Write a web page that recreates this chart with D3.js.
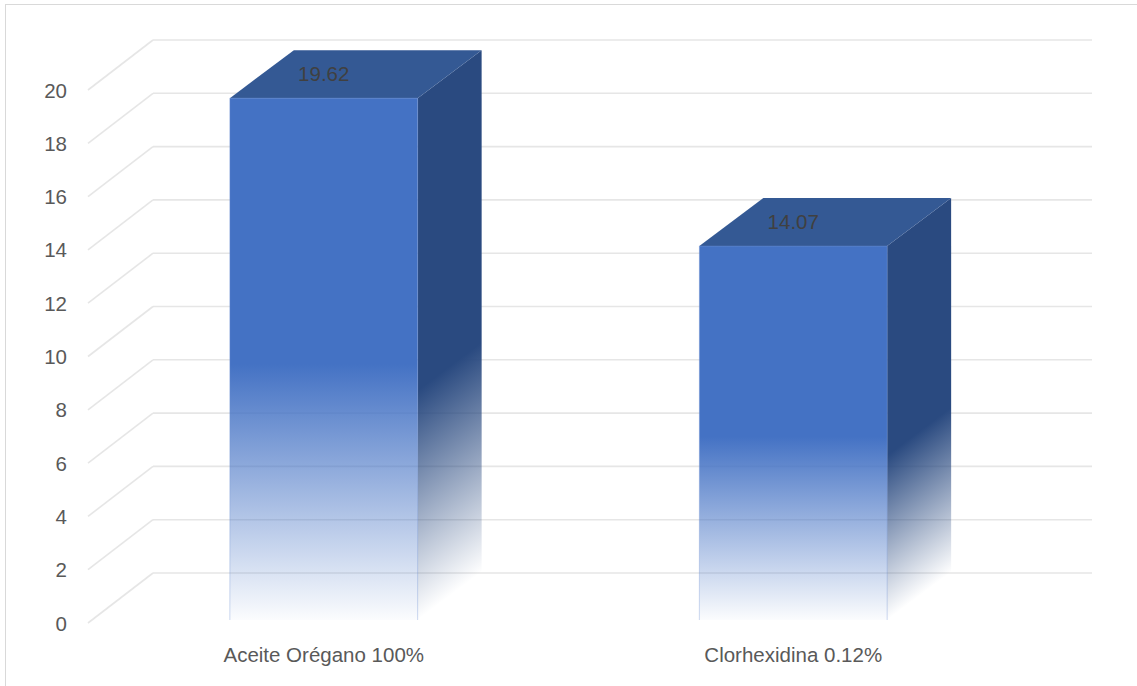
<!DOCTYPE html>
<html>
<head>
<meta charset="utf-8">
<script src="https://cdn.jsdelivr.net/npm/d3@7"></script>
<style>
  body { margin: 0; background: #fff; }
  svg text { font-family: "Liberation Sans", Arial, sans-serif; }
</style>
</head>
<body>
<div id="chart"></div>
<script>
// data
var categories = ["Aceite Orégano 100%", "Clorhexidina 0.12%"];
var values = [19.62, 14.07];
var yTicks = [0, 2, 4, 6, 8, 10, 12, 14, 16, 18, 20];

var W = 1137, H = 686;
// depth of the 3d box (back plane is shifted right/up from front plane)
var dx = 64, dy = 48;

var svg = d3.select("#chart")
  .append("svg")
  .attr("width", W)
  .attr("height", H);

var defs = svg.append("defs");

// chart border
svg.append("rect")
  .attr("x", 5.5).attr("y", 4.5)
  .attr("width", 1140).attr("height", 700)
  .attr("fill", "none")
  .attr("stroke", "#d9d9d9")
  .attr("stroke-width", 1);

// scales on the back wall
var y = d3.scaleLinear().domain([0, 20]).range([573, 40]);
var x = d3.scaleBand()
  .domain(categories)
  .range([153, 1092])
  .paddingInner(0.6)
  .paddingOuter(0.3);

// back wall gridlines
svg.append("g")
  .selectAll("line")
  .data(yTicks)
  .join("line")
  .attr("x1", 153).attr("x2", 1092)
  .attr("y1", d => y(d)).attr("y2", d => y(d))
  .attr("stroke", "#e6e6e6")
  .attr("stroke-width", 1.6);

// side wall gridlines (diagonals)
svg.append("g")
  .selectAll("line")
  .data(yTicks)
  .join("line")
  .attr("x1", 153 - dx - 1).attr("y1", d => y(d) + dy + 2)
  .attr("x2", 153).attr("y2", d => y(d))
  .attr("stroke", "#e6e6e6")
  .attr("stroke-width", 1.6);

// tick labels
svg.append("g")
  .selectAll("text")
  .data(yTicks)
  .join("text")
  .attr("x", 67)
  .attr("y", d => y(d) + dy + 2)
  .attr("text-anchor", "end")
  .attr("dominant-baseline", "central")
  .attr("fill", "#595959")
  .attr("font-size", 20.5)
  .text(d => d);

// gradients
var frontGrad = defs.append("linearGradient")
  .attr("id", "frontGrad")
  .attr("x1", 0).attr("y1", 0).attr("x2", 0).attr("y2", 1);
frontGrad.append("stop").attr("offset", "0").attr("stop-color", "#4472c4");
frontGrad.append("stop").attr("offset", "0.51").attr("stop-color", "#4472c4");
frontGrad.append("stop").attr("offset", "1").attr("stop-color", "#4472c4").attr("stop-opacity", 0.02);

var bars = values.map(function(v, i) {
  var bx = x(categories[i]);
  return {
    v: v, i: i,
    fx0: bx - dx, fx1: bx - dx + x.bandwidth(),
    bx0: bx, bx1: bx + x.bandwidth(),
    fTop: y(v) + dy, fBot: y(0) + dy - 1,
    bTop: y(v), bBot: y(0) - 1
  };
});

// side face gradient, sheared along the depth direction
bars.forEach(function(b) {
  var h = b.fBot - b.fTop;
  var g = defs.append("linearGradient")
    .attr("id", "sideGrad" + b.i)
    .attr("gradientUnits", "userSpaceOnUse")
    .attr("x1", b.fx1).attr("y1", b.fTop)
    .attr("x2", b.fx1 + 0.48 * h).attr("y2", b.fTop + 0.64 * h);
  g.append("stop").attr("offset", "0").attr("stop-color", "#2a4a80");
  g.append("stop").attr("offset", "0.56").attr("stop-color", "#2a4a80");
  g.append("stop").attr("offset", "1").attr("stop-color", "#2a4a80").attr("stop-opacity", 0);
});

var gBars = svg.append("g");

// side faces
gBars.selectAll(".side")
  .data(bars)
  .join("path")
  .attr("class", "side")
  .attr("d", b => "M" + b.fx1 + "," + b.fTop + "L" + b.bx1 + "," + b.bTop +
    "L" + b.bx1 + "," + b.bBot + "L" + b.fx1 + "," + b.fBot + "Z")
  .attr("fill", b => "url(#sideGrad" + b.i + ")");

// top faces
gBars.selectAll(".top")
  .data(bars)
  .join("path")
  .attr("class", "top")
  .attr("d", b => "M" + b.fx0 + "," + b.fTop + "L" + b.bx0 + "," + b.bTop +
    "L" + b.bx1 + "," + b.bTop + "L" + b.fx1 + "," + b.fTop + "Z")
  .attr("fill", "#345994");

// front faces
gBars.selectAll(".front")
  .data(bars)
  .join("rect")
  .attr("class", "front")
  .attr("x", b => b.fx0)
  .attr("y", b => b.fTop)
  .attr("width", x.bandwidth())
  .attr("height", b => b.fBot - b.fTop)
  .attr("fill", "url(#frontGrad)");

// faint light edges of the front face
gBars.selectAll(".edge")
  .data(bars)
  .join("path")
  .attr("class", "edge")
  .attr("d", b => "M" + b.fx0 + "," + b.fBot + "V" + b.fTop + "H" + b.fx1 + "V" + b.fBot)
  .attr("fill", "none")
  .attr("stroke", "#6f93d4")
  .attr("stroke-opacity", 0.35)
  .attr("stroke-width", 1);

// data labels on top faces
svg.append("g")
  .selectAll("text")
  .data(bars)
  .join("text")
  .attr("x", b => (b.fx0 + b.fx1) / 2)
  .attr("y", b => (b.fTop + b.bTop) / 2 - 1)
  .attr("text-anchor", "middle")
  .attr("dominant-baseline", "central")
  .attr("fill", "#404040")
  .attr("font-size", 20.5)
  .text(b => b.v.toFixed(2));

// category labels
svg.append("g")
  .selectAll("text")
  .data(categories)
  .join("text")
  .attr("x", d => x(d) - dx + x.bandwidth() / 2)
  .attr("y", 662)
  .attr("text-anchor", "middle")
  .attr("fill", "#595959")
  .attr("font-size", 20.5)
  .text(d => d);
</script>
</body>
</html>
